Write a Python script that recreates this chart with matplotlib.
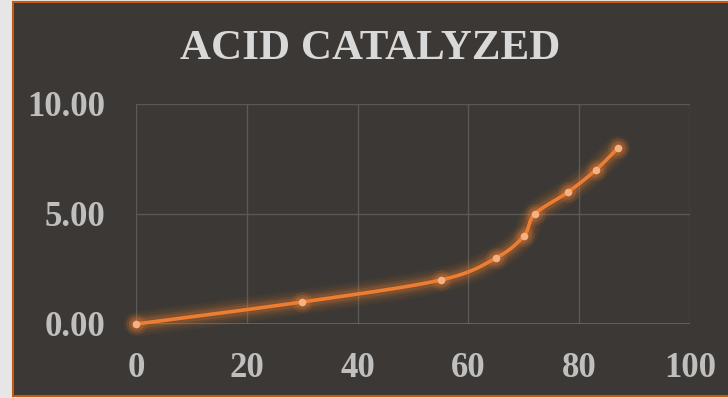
import numpy as np
import matplotlib.pyplot as plt
from matplotlib.patches import Rectangle

# data
x_vals = [0, 30, 55, 65, 70, 72, 78, 83, 87]
y_vals = [0, 1, 2, 3, 4, 5, 6, 7, 8]
x_ticks = [0, 20, 40, 60, 80, 100]
y_ticks = [0, 5, 10]
title = "ACID CATALYZED"

BG = '#3b3835'
ORANGE = '#ed7d31'


def smooth(xs, ys, n=40):
    # Excel-like smoothed line: cubic bezier through the points (Catmull-Rom)
    p = np.column_stack([xs, ys]).astype(float)
    p = np.vstack([p[0], p, p[-1]])
    out = []
    t = np.linspace(0, 1, n)[:, None]
    for i in range(1, len(p) - 2):
        p0, p1, p2, p3 = p[i - 1], p[i], p[i + 1], p[i + 2]
        c1 = p1 + (p2 - p0) / 6
        c2 = p2 - (p3 - p1) / 6
        seg = ((1 - t) ** 3) * p1 + 3 * ((1 - t) ** 2) * t * c1 + 3 * (1 - t) * t ** 2 * c2 + t ** 3 * p2
        out.append(seg)
    out = np.vstack(out)
    return out[:, 0], out[:, 1]


plt.rcParams['font.family'] = ['Liberation Serif', 'DejaVu Serif']

fig = plt.figure(figsize=(7.28, 3.98), dpi=100, facecolor='#e7e6e6')
fig.patches.append(Rectangle((13 / 728, 2 / 398), 1.0, 394 / 398, transform=fig.transFigure,
                             facecolor=BG, edgecolor='#c55a11', linewidth=1.5, zorder=-1))

ax = fig.add_axes([136 / 728, 74 / 398, 554 / 728, 220 / 398])
ax.set_zorder(2)
ax.patch.set_alpha(0)

sx, sy = smooth(x_vals, y_vals)
# glow
for lw, a in [(18, 0.06), (14, 0.08), (10, 0.12), (7, 0.18)]:
    ax.plot(sx, sy, color=ORANGE, linewidth=lw, alpha=a, solid_capstyle='round', zorder=2, clip_on=False)
for ms, a in [(15, 0.12), (11, 0.18)]:
    ax.plot(x_vals, y_vals, 'o', color=ORANGE, markersize=ms, alpha=a, markeredgewidth=0, zorder=2, clip_on=False)
ax.plot(sx, sy, color=ORANGE, linewidth=2.6, zorder=3, clip_on=False)
ax.plot(x_vals, y_vals, 'o', color='#f4b183', markersize=5.5, markeredgewidth=0, zorder=4, clip_on=False)

ax.set_xlim(0, 100)
ax.set_ylim(0, 10)
ax.set_xticks(x_ticks)
ax.set_yticks(y_ticks)
ax.set_yticklabels([f"{v:.2f}" for v in y_ticks])
ax.grid(True, color='#595959', linewidth=1)
ax.set_axisbelow(True)
for s in ax.spines.values():
    s.set_visible(False)
ax.axhline(0, color='#6b6866', linewidth=1.2, zorder=1)
ax.tick_params(length=0, labelsize=25, labelcolor='#bfbfbf')
ax.tick_params(axis='y', pad=22)
ax.tick_params(axis='x', pad=20)
for lab in ax.get_xticklabels() + ax.get_yticklabels():
    lab.set_fontweight('bold')

fig.text(370 / 728, 1 - 49 / 398, title, ha='center', va='center', fontsize=31,
         fontweight='bold', color='#d9d9d9', zorder=3)

fig.savefig('out.png', dpi=100, facecolor=fig.get_facecolor())
